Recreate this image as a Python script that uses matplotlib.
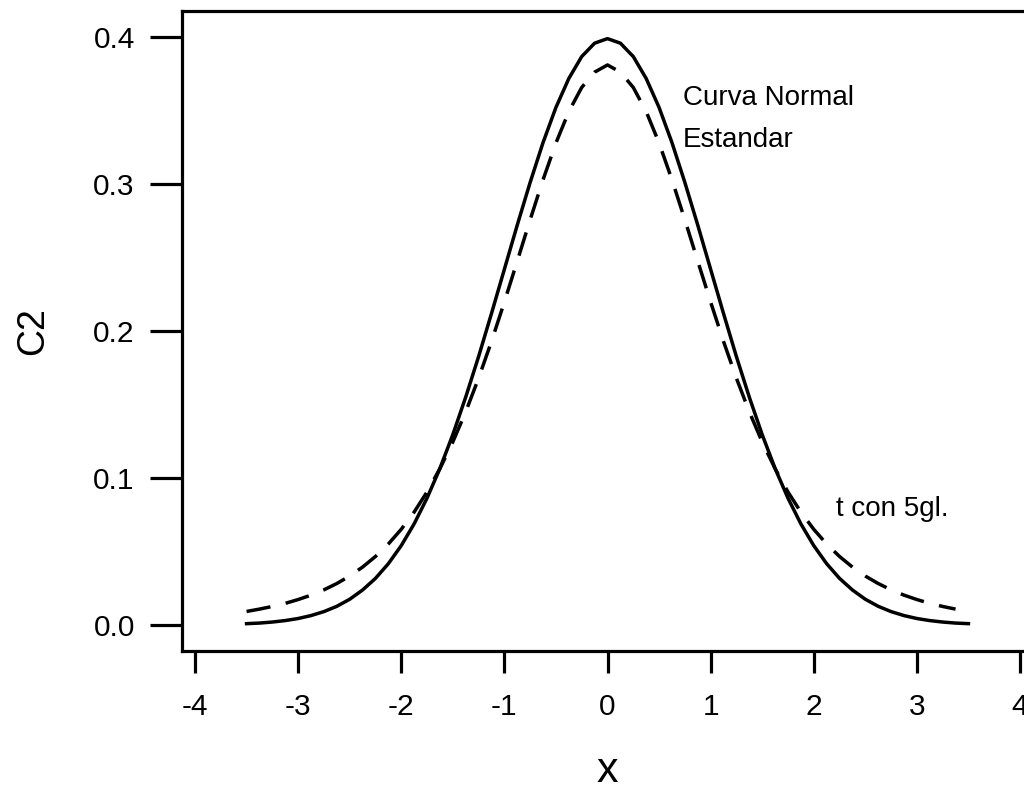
import matplotlib
matplotlib.use("Agg")
import matplotlib.pyplot as plt

plt.rcParams['font.family'] = ['Liberation Sans', 'DejaVu Sans']

# curva normal estandar
norm_x = [-3.5, -3.375, -3.25, -3.125, -3.0, -2.875, -2.75, -2.625, -2.5, -2.375, -2.25, -2.125,
          -2.0, -1.875, -1.75, -1.625, -1.5, -1.375, -1.25, -1.125, -1.0, -0.875, -0.75, -0.625,
          -0.5, -0.375, -0.25, -0.125, 0.0, 0.125, 0.25, 0.375, 0.5, 0.625, 0.75, 0.875, 1.0,
          1.125, 1.25, 1.375, 1.5, 1.625, 1.75, 1.875, 2.0, 2.125, 2.25, 2.375, 2.5, 2.625, 2.75,
          2.875, 3.0, 3.125, 3.25, 3.375, 3.5]
norm_y = [0.0009, 0.0013, 0.0020, 0.0030, 0.0044, 0.0064, 0.0091, 0.0127, 0.0175, 0.0238, 0.0317,
          0.0417, 0.0540, 0.0688, 0.0863, 0.1065, 0.1295, 0.1550, 0.1826, 0.2119, 0.2420, 0.2721,
          0.3011, 0.3282, 0.3521, 0.3718, 0.3867, 0.3958, 0.3989, 0.3958, 0.3867, 0.3718, 0.3521,
          0.3282, 0.3011, 0.2721, 0.2420, 0.2119, 0.1826, 0.1550, 0.1295, 0.1065, 0.0863, 0.0688,
          0.0540, 0.0417, 0.0317, 0.0238, 0.0175, 0.0127, 0.0091, 0.0064, 0.0044, 0.0030, 0.0020,
          0.0013, 0.0009]

# t con 5 grados de libertad
t_x = [-3.5, -3.375, -3.25, -3.125, -3.0, -2.875, -2.75, -2.625, -2.5, -2.375, -2.25, -2.125,
       -2.0, -1.875, -1.75, -1.625, -1.5, -1.375, -1.25, -1.125, -1.0, -0.875, -0.75, -0.625,
       -0.5, -0.375, -0.25, -0.125, 0.0, 0.125, 0.25, 0.375, 0.5, 0.625, 0.75, 0.875, 1.0,
       1.125, 1.25, 1.375, 1.5, 1.625, 1.75, 1.875, 2.0, 2.125, 2.25, 2.375, 2.5, 2.625, 2.75,
       2.875, 3.0, 3.125, 3.25, 3.375]
t_y = [0.0092, 0.0108, 0.0126, 0.0147, 0.0173, 0.0203, 0.0239, 0.0282, 0.0333, 0.0394, 0.0466,
       0.0551, 0.0651, 0.0768, 0.0905, 0.1064, 0.1245, 0.1450, 0.1679, 0.1929, 0.2197, 0.2476,
       0.2757, 0.3029, 0.3279, 0.3493, 0.3657, 0.3761, 0.3810, 0.3761, 0.3657, 0.3493, 0.3279,
       0.3029, 0.2757, 0.2476, 0.2197, 0.1929, 0.1679, 0.1450, 0.1245, 0.1064, 0.0905, 0.0768,
       0.0651, 0.0551, 0.0466, 0.0394, 0.0333, 0.0282, 0.0239, 0.0203, 0.0173, 0.0147, 0.0126,
       0.0108]

x_ticks = [-4, -3, -2, -1, 0, 1, 2, 3, 4]
y_ticks = [0.0, 0.1, 0.2, 0.3, 0.4]

fig = plt.figure(figsize=(10.24, 7.9), dpi=100)
ax = fig.add_axes([182 / 1024, 139 / 790, 851 / 1024, 640 / 790])

ax.plot(norm_x, norm_y, color='black', lw=2.5)
ax.plot(t_x, t_y, color='black', lw=2.5, dashes=(7, 4.5))

ax.set_xlim(-4.126, 4.126)
ax.set_ylim(-0.0177, 0.4177)
ax.set_xticks(x_ticks)
ax.set_xticklabels([str(v) for v in x_ticks])
ax.set_yticks(y_ticks)
ax.set_yticklabels(['%.1f' % v for v in y_ticks])

for s in ax.spines.values():
    s.set_linewidth(2.3)
ax.tick_params(axis='x', direction='out', length=16, width=2.3, pad=14, labelsize=21.5)
ax.tick_params(axis='y', direction='out', length=23, width=2.3, pad=11, labelsize=21.5)

ax.set_ylabel('C2', fontsize=27, labelpad=30)
ax.set_xlabel('x', fontsize=31, labelpad=22)

narrow = ['Liberation Sans Narrow', 'Liberation Sans', 'DejaVu Sans']
ax.text(0.73, 0.3442, 'Curva Normal\nEstandar', fontsize=20, va='center', ha='left',
        linespacing=1.8, family=narrow)
ax.text(2.22, 0.079, 't con 5gl.', fontsize=20, va='center', ha='left', family=narrow)

fig.savefig('out.png', dpi=100)
